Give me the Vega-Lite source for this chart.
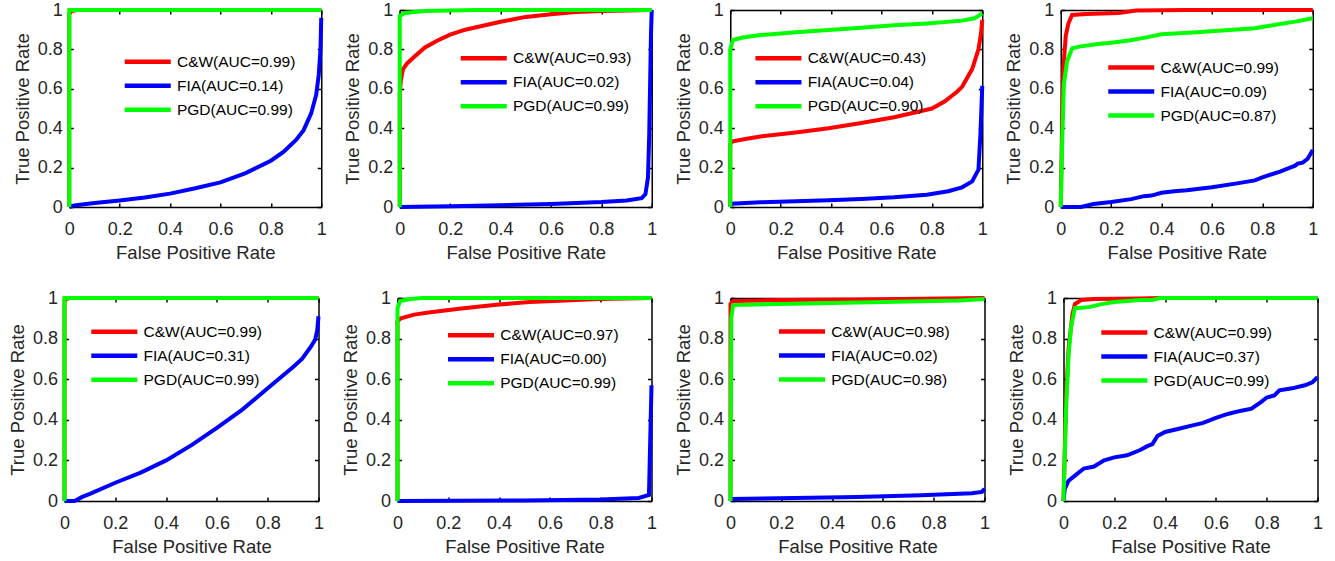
{
"$schema":"https://vega.github.io/schema/vega-lite/v6.json",
"padding":{"left":7.5,"top":1,"right":2,"bottom":5},
"background":"white",
"data":{"name":"roc"},
"datasets":{"roc":[
{"panel":1,"series":"C&W(AUC=0.99)","fpr":0,"tpr":0},{"panel":1,"series":"C&W(AUC=0.99)","fpr":0,"tpr":0.98},{"panel":1,"series":"C&W(AUC=0.99)","fpr":0.01,"tpr":0.995},{"panel":1,"series":"C&W(AUC=0.99)","fpr":0.03,"tpr":1},{"panel":1,"series":"C&W(AUC=0.99)","fpr":1,"tpr":1},
{"panel":1,"series":"FIA(AUC=0.14)","fpr":0,"tpr":0},{"panel":1,"series":"FIA(AUC=0.14)","fpr":0.02,"tpr":0.008},{"panel":1,"series":"FIA(AUC=0.14)","fpr":0.1,"tpr":0.02},{"panel":1,"series":"FIA(AUC=0.14)","fpr":0.2,"tpr":0.033},{"panel":1,"series":"FIA(AUC=0.14)","fpr":0.3,"tpr":0.048},{"panel":1,"series":"FIA(AUC=0.14)","fpr":0.4,"tpr":0.068},{"panel":1,"series":"FIA(AUC=0.14)","fpr":0.5,"tpr":0.095},{"panel":1,"series":"FIA(AUC=0.14)","fpr":0.6,"tpr":0.125},{"panel":1,"series":"FIA(AUC=0.14)","fpr":0.7,"tpr":0.172},{"panel":1,"series":"FIA(AUC=0.14)","fpr":0.8,"tpr":0.235},{"panel":1,"series":"FIA(AUC=0.14)","fpr":0.85,"tpr":0.28},{"panel":1,"series":"FIA(AUC=0.14)","fpr":0.9,"tpr":0.34},{"panel":1,"series":"FIA(AUC=0.14)","fpr":0.93,"tpr":0.39},{"panel":1,"series":"FIA(AUC=0.14)","fpr":0.96,"tpr":0.475},{"panel":1,"series":"FIA(AUC=0.14)","fpr":0.98,"tpr":0.57},{"panel":1,"series":"FIA(AUC=0.14)","fpr":0.99,"tpr":0.67},{"panel":1,"series":"FIA(AUC=0.14)","fpr":0.997,"tpr":0.8},{"panel":1,"series":"FIA(AUC=0.14)","fpr":1,"tpr":0.96},
{"panel":1,"series":"PGD(AUC=0.99)","fpr":0,"tpr":0},{"panel":1,"series":"PGD(AUC=0.99)","fpr":0,"tpr":1},{"panel":1,"series":"PGD(AUC=0.99)","fpr":1,"tpr":1},
{"panel":2,"series":"C&W(AUC=0.93)","fpr":0,"tpr":0},{"panel":2,"series":"C&W(AUC=0.93)","fpr":0,"tpr":0.58},{"panel":2,"series":"C&W(AUC=0.93)","fpr":0.005,"tpr":0.65},{"panel":2,"series":"C&W(AUC=0.93)","fpr":0.013,"tpr":0.7},{"panel":2,"series":"C&W(AUC=0.93)","fpr":0.03,"tpr":0.73},{"panel":2,"series":"C&W(AUC=0.93)","fpr":0.06,"tpr":0.765},{"panel":2,"series":"C&W(AUC=0.93)","fpr":0.1,"tpr":0.81},{"panel":2,"series":"C&W(AUC=0.93)","fpr":0.15,"tpr":0.845},{"panel":2,"series":"C&W(AUC=0.93)","fpr":0.2,"tpr":0.875},{"panel":2,"series":"C&W(AUC=0.93)","fpr":0.26,"tpr":0.9},{"panel":2,"series":"C&W(AUC=0.93)","fpr":0.33,"tpr":0.92},{"panel":2,"series":"C&W(AUC=0.93)","fpr":0.4,"tpr":0.94},{"panel":2,"series":"C&W(AUC=0.93)","fpr":0.5,"tpr":0.965},{"panel":2,"series":"C&W(AUC=0.93)","fpr":0.6,"tpr":0.978},{"panel":2,"series":"C&W(AUC=0.93)","fpr":0.7,"tpr":0.99},{"panel":2,"series":"C&W(AUC=0.93)","fpr":0.8,"tpr":0.995},{"panel":2,"series":"C&W(AUC=0.93)","fpr":0.9,"tpr":0.998},{"panel":2,"series":"C&W(AUC=0.93)","fpr":1,"tpr":1},
{"panel":2,"series":"FIA(AUC=0.02)","fpr":0,"tpr":0},{"panel":2,"series":"FIA(AUC=0.02)","fpr":0.2,"tpr":0.004},{"panel":2,"series":"FIA(AUC=0.02)","fpr":0.4,"tpr":0.009},{"panel":2,"series":"FIA(AUC=0.02)","fpr":0.6,"tpr":0.015},{"panel":2,"series":"FIA(AUC=0.02)","fpr":0.8,"tpr":0.025},{"panel":2,"series":"FIA(AUC=0.02)","fpr":0.9,"tpr":0.033},{"panel":2,"series":"FIA(AUC=0.02)","fpr":0.96,"tpr":0.045},{"panel":2,"series":"FIA(AUC=0.02)","fpr":0.975,"tpr":0.065},{"panel":2,"series":"FIA(AUC=0.02)","fpr":0.985,"tpr":0.15},{"panel":2,"series":"FIA(AUC=0.02)","fpr":0.99,"tpr":0.37},{"panel":2,"series":"FIA(AUC=0.02)","fpr":0.997,"tpr":0.88},{"panel":2,"series":"FIA(AUC=0.02)","fpr":1,"tpr":1},
{"panel":2,"series":"PGD(AUC=0.99)","fpr":0,"tpr":0},{"panel":2,"series":"PGD(AUC=0.99)","fpr":0,"tpr":0.97},{"panel":2,"series":"PGD(AUC=0.99)","fpr":0.02,"tpr":0.985},{"panel":2,"series":"PGD(AUC=0.99)","fpr":0.1,"tpr":0.995},{"panel":2,"series":"PGD(AUC=0.99)","fpr":0.3,"tpr":1},{"panel":2,"series":"PGD(AUC=0.99)","fpr":1,"tpr":1},
{"panel":3,"series":"C&W(AUC=0.43)","fpr":0,"tpr":0},{"panel":3,"series":"C&W(AUC=0.43)","fpr":0,"tpr":0.32},{"panel":3,"series":"C&W(AUC=0.43)","fpr":0.01,"tpr":0.333},{"panel":3,"series":"C&W(AUC=0.43)","fpr":0.06,"tpr":0.345},{"panel":3,"series":"C&W(AUC=0.43)","fpr":0.12,"tpr":0.358},{"panel":3,"series":"C&W(AUC=0.43)","fpr":0.26,"tpr":0.378},{"panel":3,"series":"C&W(AUC=0.43)","fpr":0.39,"tpr":0.4},{"panel":3,"series":"C&W(AUC=0.43)","fpr":0.52,"tpr":0.426},{"panel":3,"series":"C&W(AUC=0.43)","fpr":0.65,"tpr":0.456},{"panel":3,"series":"C&W(AUC=0.43)","fpr":0.75,"tpr":0.485},{"panel":3,"series":"C&W(AUC=0.43)","fpr":0.8,"tpr":0.5},{"panel":3,"series":"C&W(AUC=0.43)","fpr":0.85,"tpr":0.535},{"panel":3,"series":"C&W(AUC=0.43)","fpr":0.9,"tpr":0.585},{"panel":3,"series":"C&W(AUC=0.43)","fpr":0.92,"tpr":0.61},{"panel":3,"series":"C&W(AUC=0.43)","fpr":0.96,"tpr":0.7},{"panel":3,"series":"C&W(AUC=0.43)","fpr":0.985,"tpr":0.8},{"panel":3,"series":"C&W(AUC=0.43)","fpr":0.995,"tpr":0.88},{"panel":3,"series":"C&W(AUC=0.43)","fpr":1,"tpr":0.95},
{"panel":3,"series":"FIA(AUC=0.04)","fpr":0,"tpr":0},{"panel":3,"series":"FIA(AUC=0.04)","fpr":0.005,"tpr":0.017},{"panel":3,"series":"FIA(AUC=0.04)","fpr":0.12,"tpr":0.024},{"panel":3,"series":"FIA(AUC=0.04)","fpr":0.26,"tpr":0.029},{"panel":3,"series":"FIA(AUC=0.04)","fpr":0.39,"tpr":0.034},{"panel":3,"series":"FIA(AUC=0.04)","fpr":0.52,"tpr":0.04},{"panel":3,"series":"FIA(AUC=0.04)","fpr":0.65,"tpr":0.049},{"panel":3,"series":"FIA(AUC=0.04)","fpr":0.78,"tpr":0.062},{"panel":3,"series":"FIA(AUC=0.04)","fpr":0.865,"tpr":0.08},{"panel":3,"series":"FIA(AUC=0.04)","fpr":0.92,"tpr":0.1},{"panel":3,"series":"FIA(AUC=0.04)","fpr":0.96,"tpr":0.13},{"panel":3,"series":"FIA(AUC=0.04)","fpr":0.985,"tpr":0.19},{"panel":3,"series":"FIA(AUC=0.04)","fpr":0.993,"tpr":0.375},{"panel":3,"series":"FIA(AUC=0.04)","fpr":1,"tpr":0.615},
{"panel":3,"series":"PGD(AUC=0.90)","fpr":0,"tpr":0},{"panel":3,"series":"PGD(AUC=0.90)","fpr":0,"tpr":0.8},{"panel":3,"series":"PGD(AUC=0.90)","fpr":0.01,"tpr":0.848},{"panel":3,"series":"PGD(AUC=0.90)","fpr":0.05,"tpr":0.86},{"panel":3,"series":"PGD(AUC=0.90)","fpr":0.12,"tpr":0.873},{"panel":3,"series":"PGD(AUC=0.90)","fpr":0.26,"tpr":0.887},{"panel":3,"series":"PGD(AUC=0.90)","fpr":0.39,"tpr":0.899},{"panel":3,"series":"PGD(AUC=0.90)","fpr":0.52,"tpr":0.91},{"panel":3,"series":"PGD(AUC=0.90)","fpr":0.65,"tpr":0.922},{"panel":3,"series":"PGD(AUC=0.90)","fpr":0.78,"tpr":0.932},{"panel":3,"series":"PGD(AUC=0.90)","fpr":0.92,"tpr":0.946},{"panel":3,"series":"PGD(AUC=0.90)","fpr":0.97,"tpr":0.958},{"panel":3,"series":"PGD(AUC=0.90)","fpr":1,"tpr":0.983},
{"panel":4,"series":"C&W(AUC=0.99)","fpr":0,"tpr":0},{"panel":4,"series":"C&W(AUC=0.99)","fpr":0.005,"tpr":0.4},{"panel":4,"series":"C&W(AUC=0.99)","fpr":0.01,"tpr":0.7},{"panel":4,"series":"C&W(AUC=0.99)","fpr":0.02,"tpr":0.87},{"panel":4,"series":"C&W(AUC=0.99)","fpr":0.03,"tpr":0.93},{"panel":4,"series":"C&W(AUC=0.99)","fpr":0.045,"tpr":0.975},{"panel":4,"series":"C&W(AUC=0.99)","fpr":0.1,"tpr":0.98},{"panel":4,"series":"C&W(AUC=0.99)","fpr":0.23,"tpr":0.985},{"panel":4,"series":"C&W(AUC=0.99)","fpr":0.3,"tpr":0.997},{"panel":4,"series":"C&W(AUC=0.99)","fpr":0.5,"tpr":1},{"panel":4,"series":"C&W(AUC=0.99)","fpr":1,"tpr":1},
{"panel":4,"series":"FIA(AUC=0.09)","fpr":0,"tpr":0},{"panel":4,"series":"FIA(AUC=0.09)","fpr":0.08,"tpr":0},{"panel":4,"series":"FIA(AUC=0.09)","fpr":0.13,"tpr":0.015},{"panel":4,"series":"FIA(AUC=0.09)","fpr":0.2,"tpr":0.025},{"panel":4,"series":"FIA(AUC=0.09)","fpr":0.28,"tpr":0.04},{"panel":4,"series":"FIA(AUC=0.09)","fpr":0.33,"tpr":0.055},{"panel":4,"series":"FIA(AUC=0.09)","fpr":0.36,"tpr":0.058},{"panel":4,"series":"FIA(AUC=0.09)","fpr":0.4,"tpr":0.072},{"panel":4,"series":"FIA(AUC=0.09)","fpr":0.45,"tpr":0.08},{"panel":4,"series":"FIA(AUC=0.09)","fpr":0.5,"tpr":0.085},{"panel":4,"series":"FIA(AUC=0.09)","fpr":0.6,"tpr":0.1},{"panel":4,"series":"FIA(AUC=0.09)","fpr":0.7,"tpr":0.12},{"panel":4,"series":"FIA(AUC=0.09)","fpr":0.77,"tpr":0.135},{"panel":4,"series":"FIA(AUC=0.09)","fpr":0.8,"tpr":0.15},{"panel":4,"series":"FIA(AUC=0.09)","fpr":0.87,"tpr":0.18},{"panel":4,"series":"FIA(AUC=0.09)","fpr":0.9,"tpr":0.195},{"panel":4,"series":"FIA(AUC=0.09)","fpr":0.93,"tpr":0.21},{"panel":4,"series":"FIA(AUC=0.09)","fpr":0.94,"tpr":0.22},{"panel":4,"series":"FIA(AUC=0.09)","fpr":0.96,"tpr":0.225},{"panel":4,"series":"FIA(AUC=0.09)","fpr":0.98,"tpr":0.245},{"panel":4,"series":"FIA(AUC=0.09)","fpr":1,"tpr":0.29},
{"panel":4,"series":"PGD(AUC=0.87)","fpr":0,"tpr":0},{"panel":4,"series":"PGD(AUC=0.87)","fpr":0.005,"tpr":0.3},{"panel":4,"series":"PGD(AUC=0.87)","fpr":0.012,"tpr":0.62},{"panel":4,"series":"PGD(AUC=0.87)","fpr":0.025,"tpr":0.74},{"panel":4,"series":"PGD(AUC=0.87)","fpr":0.045,"tpr":0.805},{"panel":4,"series":"PGD(AUC=0.87)","fpr":0.073,"tpr":0.814},{"panel":4,"series":"PGD(AUC=0.87)","fpr":0.14,"tpr":0.826},{"panel":4,"series":"PGD(AUC=0.87)","fpr":0.2,"tpr":0.834},{"panel":4,"series":"PGD(AUC=0.87)","fpr":0.27,"tpr":0.845},{"panel":4,"series":"PGD(AUC=0.87)","fpr":0.34,"tpr":0.861},{"panel":4,"series":"PGD(AUC=0.87)","fpr":0.4,"tpr":0.877},{"panel":4,"series":"PGD(AUC=0.87)","fpr":0.47,"tpr":0.882},{"panel":4,"series":"PGD(AUC=0.87)","fpr":0.54,"tpr":0.887},{"panel":4,"series":"PGD(AUC=0.87)","fpr":0.67,"tpr":0.899},{"panel":4,"series":"PGD(AUC=0.87)","fpr":0.77,"tpr":0.907},{"panel":4,"series":"PGD(AUC=0.87)","fpr":0.87,"tpr":0.929},{"panel":4,"series":"PGD(AUC=0.87)","fpr":0.93,"tpr":0.941},{"panel":4,"series":"PGD(AUC=0.87)","fpr":1,"tpr":0.958},
{"panel":5,"series":"C&W(AUC=0.99)","fpr":0,"tpr":0},{"panel":5,"series":"C&W(AUC=0.99)","fpr":0,"tpr":0.99},{"panel":5,"series":"C&W(AUC=0.99)","fpr":0.02,"tpr":1},{"panel":5,"series":"C&W(AUC=0.99)","fpr":1,"tpr":1},
{"panel":5,"series":"FIA(AUC=0.31)","fpr":0,"tpr":0},{"panel":5,"series":"FIA(AUC=0.31)","fpr":0.04,"tpr":0},{"panel":5,"series":"FIA(AUC=0.31)","fpr":0.07,"tpr":0.02},{"panel":5,"series":"FIA(AUC=0.31)","fpr":0.1,"tpr":0.035},{"panel":5,"series":"FIA(AUC=0.31)","fpr":0.2,"tpr":0.09},{"panel":5,"series":"FIA(AUC=0.31)","fpr":0.3,"tpr":0.14},{"panel":5,"series":"FIA(AUC=0.31)","fpr":0.4,"tpr":0.2},{"panel":5,"series":"FIA(AUC=0.31)","fpr":0.5,"tpr":0.275},{"panel":5,"series":"FIA(AUC=0.31)","fpr":0.6,"tpr":0.36},{"panel":5,"series":"FIA(AUC=0.31)","fpr":0.7,"tpr":0.45},{"panel":5,"series":"FIA(AUC=0.31)","fpr":0.8,"tpr":0.555},{"panel":5,"series":"FIA(AUC=0.31)","fpr":0.9,"tpr":0.66},{"panel":5,"series":"FIA(AUC=0.31)","fpr":0.935,"tpr":0.7},{"panel":5,"series":"FIA(AUC=0.31)","fpr":0.97,"tpr":0.76},{"panel":5,"series":"FIA(AUC=0.31)","fpr":0.987,"tpr":0.795},{"panel":5,"series":"FIA(AUC=0.31)","fpr":0.995,"tpr":0.84},{"panel":5,"series":"FIA(AUC=0.31)","fpr":1,"tpr":0.91},
{"panel":5,"series":"PGD(AUC=0.99)","fpr":0,"tpr":0},{"panel":5,"series":"PGD(AUC=0.99)","fpr":0,"tpr":1},{"panel":5,"series":"PGD(AUC=0.99)","fpr":1,"tpr":1},
{"panel":6,"series":"C&W(AUC=0.97)","fpr":0,"tpr":0},{"panel":6,"series":"C&W(AUC=0.97)","fpr":0,"tpr":0.885},{"panel":6,"series":"C&W(AUC=0.97)","fpr":0.013,"tpr":0.9},{"panel":6,"series":"C&W(AUC=0.97)","fpr":0.066,"tpr":0.918},{"panel":6,"series":"C&W(AUC=0.97)","fpr":0.13,"tpr":0.93},{"panel":6,"series":"C&W(AUC=0.97)","fpr":0.26,"tpr":0.95},{"panel":6,"series":"C&W(AUC=0.97)","fpr":0.39,"tpr":0.967},{"panel":6,"series":"C&W(AUC=0.97)","fpr":0.52,"tpr":0.98},{"panel":6,"series":"C&W(AUC=0.97)","fpr":0.66,"tpr":0.988},{"panel":6,"series":"C&W(AUC=0.97)","fpr":0.79,"tpr":0.995},{"panel":6,"series":"C&W(AUC=0.97)","fpr":1,"tpr":1},
{"panel":6,"series":"FIA(AUC=0.00)","fpr":0,"tpr":0},{"panel":6,"series":"FIA(AUC=0.00)","fpr":0.5,"tpr":0.003},{"panel":6,"series":"FIA(AUC=0.00)","fpr":0.8,"tpr":0.008},{"panel":6,"series":"FIA(AUC=0.00)","fpr":0.95,"tpr":0.015},{"panel":6,"series":"FIA(AUC=0.00)","fpr":0.99,"tpr":0.03},{"panel":6,"series":"FIA(AUC=0.00)","fpr":1,"tpr":0.57},
{"panel":6,"series":"PGD(AUC=0.99)","fpr":0,"tpr":0},{"panel":6,"series":"PGD(AUC=0.99)","fpr":0,"tpr":0.95},{"panel":6,"series":"PGD(AUC=0.99)","fpr":0.01,"tpr":0.985},{"panel":6,"series":"PGD(AUC=0.99)","fpr":0.05,"tpr":0.995},{"panel":6,"series":"PGD(AUC=0.99)","fpr":0.1,"tpr":1},{"panel":6,"series":"PGD(AUC=0.99)","fpr":1,"tpr":1},
{"panel":7,"series":"C&W(AUC=0.98)","fpr":0,"tpr":0},{"panel":7,"series":"C&W(AUC=0.98)","fpr":0,"tpr":0.97},{"panel":7,"series":"C&W(AUC=0.98)","fpr":0.01,"tpr":0.985},{"panel":7,"series":"C&W(AUC=0.98)","fpr":0.2,"tpr":0.99},{"panel":7,"series":"C&W(AUC=0.98)","fpr":0.5,"tpr":0.993},{"panel":7,"series":"C&W(AUC=0.98)","fpr":1,"tpr":1},
{"panel":7,"series":"FIA(AUC=0.02)","fpr":0,"tpr":0},{"panel":7,"series":"FIA(AUC=0.02)","fpr":0.005,"tpr":0.01},{"panel":7,"series":"FIA(AUC=0.02)","fpr":0.25,"tpr":0.015},{"panel":7,"series":"FIA(AUC=0.02)","fpr":0.5,"tpr":0.02},{"panel":7,"series":"FIA(AUC=0.02)","fpr":0.75,"tpr":0.028},{"panel":7,"series":"FIA(AUC=0.02)","fpr":0.95,"tpr":0.038},{"panel":7,"series":"FIA(AUC=0.02)","fpr":0.99,"tpr":0.045},{"panel":7,"series":"FIA(AUC=0.02)","fpr":1,"tpr":0.06},
{"panel":7,"series":"PGD(AUC=0.98)","fpr":0,"tpr":0},{"panel":7,"series":"PGD(AUC=0.98)","fpr":0.003,"tpr":0.9},{"panel":7,"series":"PGD(AUC=0.98)","fpr":0.01,"tpr":0.965},{"panel":7,"series":"PGD(AUC=0.98)","fpr":0.1,"tpr":0.968},{"panel":7,"series":"PGD(AUC=0.98)","fpr":0.3,"tpr":0.973},{"panel":7,"series":"PGD(AUC=0.98)","fpr":0.5,"tpr":0.978},{"panel":7,"series":"PGD(AUC=0.98)","fpr":0.7,"tpr":0.983},{"panel":7,"series":"PGD(AUC=0.98)","fpr":0.9,"tpr":0.988},{"panel":7,"series":"PGD(AUC=0.98)","fpr":1,"tpr":0.995},
{"panel":8,"series":"C&W(AUC=0.99)","fpr":0,"tpr":0},{"panel":8,"series":"C&W(AUC=0.99)","fpr":0.01,"tpr":0.5},{"panel":8,"series":"C&W(AUC=0.99)","fpr":0.02,"tpr":0.75},{"panel":8,"series":"C&W(AUC=0.99)","fpr":0.035,"tpr":0.92},{"panel":8,"series":"C&W(AUC=0.99)","fpr":0.045,"tpr":0.97},{"panel":8,"series":"C&W(AUC=0.99)","fpr":0.07,"tpr":0.99},{"panel":8,"series":"C&W(AUC=0.99)","fpr":0.12,"tpr":0.995},{"panel":8,"series":"C&W(AUC=0.99)","fpr":0.3,"tpr":0.998},{"panel":8,"series":"C&W(AUC=0.99)","fpr":0.38,"tpr":1},{"panel":8,"series":"C&W(AUC=0.99)","fpr":1,"tpr":1},
{"panel":8,"series":"FIA(AUC=0.37)","fpr":0,"tpr":0},{"panel":8,"series":"FIA(AUC=0.37)","fpr":0.005,"tpr":0.06},{"panel":8,"series":"FIA(AUC=0.37)","fpr":0.02,"tpr":0.1},{"panel":8,"series":"FIA(AUC=0.37)","fpr":0.05,"tpr":0.13},{"panel":8,"series":"FIA(AUC=0.37)","fpr":0.08,"tpr":0.16},{"panel":8,"series":"FIA(AUC=0.37)","fpr":0.12,"tpr":0.17},{"panel":8,"series":"FIA(AUC=0.37)","fpr":0.16,"tpr":0.2},{"panel":8,"series":"FIA(AUC=0.37)","fpr":0.2,"tpr":0.215},{"panel":8,"series":"FIA(AUC=0.37)","fpr":0.25,"tpr":0.225},{"panel":8,"series":"FIA(AUC=0.37)","fpr":0.3,"tpr":0.25},{"panel":8,"series":"FIA(AUC=0.37)","fpr":0.33,"tpr":0.27},{"panel":8,"series":"FIA(AUC=0.37)","fpr":0.35,"tpr":0.28},{"panel":8,"series":"FIA(AUC=0.37)","fpr":0.37,"tpr":0.32},{"panel":8,"series":"FIA(AUC=0.37)","fpr":0.4,"tpr":0.34},{"panel":8,"series":"FIA(AUC=0.37)","fpr":0.45,"tpr":0.355},{"panel":8,"series":"FIA(AUC=0.37)","fpr":0.5,"tpr":0.37},{"panel":8,"series":"FIA(AUC=0.37)","fpr":0.55,"tpr":0.385},{"panel":8,"series":"FIA(AUC=0.37)","fpr":0.6,"tpr":0.41},{"panel":8,"series":"FIA(AUC=0.37)","fpr":0.65,"tpr":0.43},{"panel":8,"series":"FIA(AUC=0.37)","fpr":0.7,"tpr":0.445},{"panel":8,"series":"FIA(AUC=0.37)","fpr":0.74,"tpr":0.455},{"panel":8,"series":"FIA(AUC=0.37)","fpr":0.78,"tpr":0.49},{"panel":8,"series":"FIA(AUC=0.37)","fpr":0.8,"tpr":0.51},{"panel":8,"series":"FIA(AUC=0.37)","fpr":0.83,"tpr":0.52},{"panel":8,"series":"FIA(AUC=0.37)","fpr":0.85,"tpr":0.545},{"panel":8,"series":"FIA(AUC=0.37)","fpr":0.9,"tpr":0.555},{"panel":8,"series":"FIA(AUC=0.37)","fpr":0.95,"tpr":0.57},{"panel":8,"series":"FIA(AUC=0.37)","fpr":0.98,"tpr":0.585},{"panel":8,"series":"FIA(AUC=0.37)","fpr":1,"tpr":0.61},
{"panel":8,"series":"PGD(AUC=0.99)","fpr":0,"tpr":0},{"panel":8,"series":"PGD(AUC=0.99)","fpr":0.01,"tpr":0.45},{"panel":8,"series":"PGD(AUC=0.99)","fpr":0.02,"tpr":0.72},{"panel":8,"series":"PGD(AUC=0.99)","fpr":0.03,"tpr":0.86},{"panel":8,"series":"PGD(AUC=0.99)","fpr":0.045,"tpr":0.95},{"panel":8,"series":"PGD(AUC=0.99)","fpr":0.1,"tpr":0.955},{"panel":8,"series":"PGD(AUC=0.99)","fpr":0.15,"tpr":0.97},{"panel":8,"series":"PGD(AUC=0.99)","fpr":0.2,"tpr":0.98},{"panel":8,"series":"PGD(AUC=0.99)","fpr":0.3,"tpr":0.99},{"panel":8,"series":"PGD(AUC=0.99)","fpr":0.35,"tpr":0.99},{"panel":8,"series":"PGD(AUC=0.99)","fpr":0.38,"tpr":1},{"panel":8,"series":"PGD(AUC=0.99)","fpr":1,"tpr":1}
]},
"vconcat":[
{"hconcat":[
{"width":252,"height":197,"transform":[{"filter":"datum.panel == 1"}],"layer":[
{"mark":{"type":"line","strokeWidth":4},"encoding":{"x":{"field":"fpr","type":"quantitative","scale":{"domain":[0,1]},"axis":{"orient":"bottom","title":"False Positive Rate","format":"~g"}},"y":{"field":"tpr","type":"quantitative","scale":{"domain":[0,1]},"axis":{"orient":"left","title":"True Positive Rate","format":"~g"}},"color":{"field":"series","type":"nominal","scale":{"range":["#ff0000","#0000ff","#00ff00"]},"legend":{"orient":"none","legendX":53,"legendY":40.3,"title":null}},"order":[{"field":"fpr","type":"quantitative"},{"field":"tpr","type":"quantitative"}]}},
{"mark":{"type":"line","opacity":0},"encoding":{"x":{"field":"fpr","type":"quantitative","axis":{"orient":"top","labels":false,"title":null}},"y":{"field":"tpr","type":"quantitative","axis":{"orient":"right","labels":false,"title":null}}}}
],"resolve":{"axis":{"x":"independent","y":"independent"}}},
{"width":252,"height":197,"transform":[{"filter":"datum.panel == 2"}],"layer":[
{"mark":{"type":"line","strokeWidth":4},"encoding":{"x":{"field":"fpr","type":"quantitative","scale":{"domain":[0,1]},"axis":{"orient":"bottom","title":"False Positive Rate","format":"~g"}},"y":{"field":"tpr","type":"quantitative","scale":{"domain":[0,1]},"axis":{"orient":"left","title":"True Positive Rate","format":"~g"}},"color":{"field":"series","type":"nominal","scale":{"range":["#ff0000","#0000ff","#00ff00"]},"legend":{"orient":"none","legendX":58.5,"legendY":36.7,"title":null}},"order":[{"field":"fpr","type":"quantitative"},{"field":"tpr","type":"quantitative"}]}},
{"mark":{"type":"line","opacity":0},"encoding":{"x":{"field":"fpr","type":"quantitative","axis":{"orient":"top","labels":false,"title":null}},"y":{"field":"tpr","type":"quantitative","axis":{"orient":"right","labels":false,"title":null}}}}
],"resolve":{"axis":{"x":"independent","y":"independent"}}},
{"width":252,"height":197,"transform":[{"filter":"datum.panel == 3"}],"layer":[
{"mark":{"type":"line","strokeWidth":4},"encoding":{"x":{"field":"fpr","type":"quantitative","scale":{"domain":[0,1]},"axis":{"orient":"bottom","title":"False Positive Rate","format":"~g"}},"y":{"field":"tpr","type":"quantitative","scale":{"domain":[0,1]},"axis":{"orient":"left","title":"True Positive Rate","format":"~g"}},"color":{"field":"series","type":"nominal","scale":{"range":["#ff0000","#0000ff","#00ff00"]},"legend":{"orient":"none","legendX":22.7,"legendY":36.7,"title":null}},"order":[{"field":"fpr","type":"quantitative"},{"field":"tpr","type":"quantitative"}]}},
{"mark":{"type":"line","opacity":0},"encoding":{"x":{"field":"fpr","type":"quantitative","axis":{"orient":"top","labels":false,"title":null}},"y":{"field":"tpr","type":"quantitative","axis":{"orient":"right","labels":false,"title":null}}}}
],"resolve":{"axis":{"x":"independent","y":"independent"}}},
{"width":252,"height":197,"transform":[{"filter":"datum.panel == 4"}],"layer":[
{"mark":{"type":"line","strokeWidth":4},"encoding":{"x":{"field":"fpr","type":"quantitative","scale":{"domain":[0,1]},"axis":{"orient":"bottom","title":"False Positive Rate","format":"~g"}},"y":{"field":"tpr","type":"quantitative","scale":{"domain":[0,1]},"axis":{"orient":"left","title":"True Positive Rate","format":"~g"}},"color":{"field":"series","type":"nominal","scale":{"range":["#ff0000","#0000ff","#00ff00"]},"legend":{"orient":"none","legendX":45,"legendY":46,"title":null}},"order":[{"field":"fpr","type":"quantitative"},{"field":"tpr","type":"quantitative"}]}},
{"mark":{"type":"line","opacity":0},"encoding":{"x":{"field":"fpr","type":"quantitative","axis":{"orient":"top","labels":false,"title":null}},"y":{"field":"tpr","type":"quantitative","axis":{"orient":"right","labels":false,"title":null}}}}
],"resolve":{"axis":{"x":"independent","y":"independent"}}}
],"spacing":78.5,"bounds":"flush","resolve":{"scale":{"color":"independent"},"legend":{"color":"independent"}}},
{"hconcat":[
{"width":254,"height":203,"transform":[{"filter":"datum.panel == 5"}],"layer":[
{"mark":{"type":"line","strokeWidth":4},"encoding":{"x":{"field":"fpr","type":"quantitative","scale":{"domain":[0,1]},"axis":{"orient":"bottom","title":"False Positive Rate","format":"~g"}},"y":{"field":"tpr","type":"quantitative","scale":{"domain":[0,1]},"axis":{"orient":"left","title":"True Positive Rate","format":"~g"}},"color":{"field":"series","type":"nominal","scale":{"range":["#ff0000","#0000ff","#00ff00"]},"legend":{"orient":"none","legendX":24.3,"legendY":22.3,"title":null}},"order":[{"field":"fpr","type":"quantitative"},{"field":"tpr","type":"quantitative"}]}},
{"mark":{"type":"line","opacity":0},"encoding":{"x":{"field":"fpr","type":"quantitative","axis":{"orient":"top","labels":false,"title":null}},"y":{"field":"tpr","type":"quantitative","axis":{"orient":"right","labels":false,"title":null}}}}
],"resolve":{"axis":{"x":"independent","y":"independent"}}},
{"width":254,"height":203,"transform":[{"filter":"datum.panel == 6"}],"layer":[
{"mark":{"type":"line","strokeWidth":4},"encoding":{"x":{"field":"fpr","type":"quantitative","scale":{"domain":[0,1]},"axis":{"orient":"bottom","title":"False Positive Rate","format":"~g"}},"y":{"field":"tpr","type":"quantitative","scale":{"domain":[0,1]},"axis":{"orient":"left","title":"True Positive Rate","format":"~g"}},"color":{"field":"series","type":"nominal","scale":{"range":["#ff0000","#0000ff","#00ff00"]},"legend":{"orient":"none","legendX":48,"legendY":25.7,"title":null}},"order":[{"field":"fpr","type":"quantitative"},{"field":"tpr","type":"quantitative"}]}},
{"mark":{"type":"line","opacity":0},"encoding":{"x":{"field":"fpr","type":"quantitative","axis":{"orient":"top","labels":false,"title":null}},"y":{"field":"tpr","type":"quantitative","axis":{"orient":"right","labels":false,"title":null}}}}
],"resolve":{"axis":{"x":"independent","y":"independent"}}},
{"width":254,"height":203,"transform":[{"filter":"datum.panel == 7"}],"layer":[
{"mark":{"type":"line","strokeWidth":4},"encoding":{"x":{"field":"fpr","type":"quantitative","scale":{"domain":[0,1]},"axis":{"orient":"bottom","title":"False Positive Rate","format":"~g"}},"y":{"field":"tpr","type":"quantitative","scale":{"domain":[0,1]},"axis":{"orient":"left","title":"True Positive Rate","format":"~g"}},"color":{"field":"series","type":"nominal","scale":{"range":["#ff0000","#0000ff","#00ff00"]},"legend":{"orient":"none","legendX":46,"legendY":22,"title":null}},"order":[{"field":"fpr","type":"quantitative"},{"field":"tpr","type":"quantitative"}]}},
{"mark":{"type":"line","opacity":0},"encoding":{"x":{"field":"fpr","type":"quantitative","axis":{"orient":"top","labels":false,"title":null}},"y":{"field":"tpr","type":"quantitative","axis":{"orient":"right","labels":false,"title":null}}}}
],"resolve":{"axis":{"x":"independent","y":"independent"}}},
{"width":254,"height":203,"transform":[{"filter":"datum.panel == 8"}],"layer":[
{"mark":{"type":"line","strokeWidth":4},"encoding":{"x":{"field":"fpr","type":"quantitative","scale":{"domain":[0,1]},"axis":{"orient":"bottom","title":"False Positive Rate","format":"~g"}},"y":{"field":"tpr","type":"quantitative","scale":{"domain":[0,1]},"axis":{"orient":"left","title":"True Positive Rate","format":"~g"}},"color":{"field":"series","type":"nominal","scale":{"range":["#ff0000","#0000ff","#00ff00"]},"legend":{"orient":"none","legendX":35.3,"legendY":23,"title":null}},"order":[{"field":"fpr","type":"quantitative"},{"field":"tpr","type":"quantitative"}]}},
{"mark":{"type":"line","opacity":0},"encoding":{"x":{"field":"fpr","type":"quantitative","axis":{"orient":"top","labels":false,"title":null}},"y":{"field":"tpr","type":"quantitative","axis":{"orient":"right","labels":false,"title":null}}}}
],"resolve":{"axis":{"x":"independent","y":"independent"}}}
],"spacing":79,"bounds":"flush","resolve":{"scale":{"color":"independent"},"legend":{"color":"independent"}}}
],
"spacing":26,
"center":true,
"resolve":{"scale":{"color":"independent"},"legend":{"color":"independent"}},
"config":{
"view":{"stroke":null},
"font":"Liberation Sans",
"axis":{"grid":false,"domainColor":"#000000","domainWidth":1.5,"tickColor":"#000000","tickWidth":1.5,"tickSize":-4,"tickCount":5,"labelFlush":false,"labelFont":"Liberation Sans","labelFontSize":18,"labelColor":"#262626","titleFont":"Liberation Sans","titleFontSize":18.5,"titleFontWeight":"normal","titleColor":"#262626"},
"axisBottom":{"labelPadding":17.7,"titlePadding":5},
"axisLeft":{"labelPadding":11,"titlePadding":5},
"legend":{"padding":0,"symbolType":"M-1,0H4.111","symbolSize":324,"symbolStrokeWidth":4.5,"symbolOpacity":1,"labelFont":"Liberation Sans","labelFontSize":15.5,"labelColor":"#000000","labelOffset":31.7,"rowPadding":3,"labelLimit":300}
}
}
